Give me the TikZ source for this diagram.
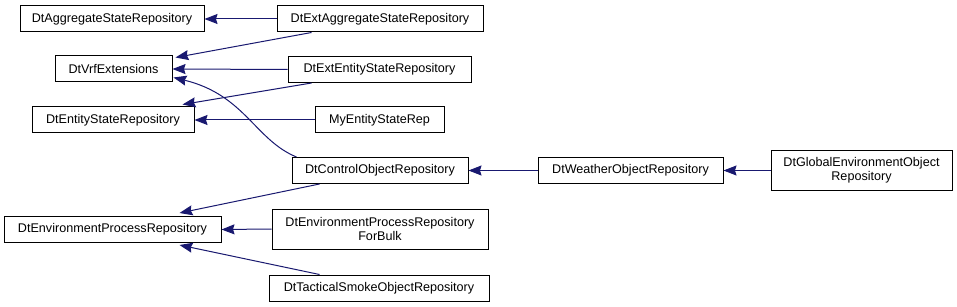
\documentclass[tikz,border=0pt]{standalone}
\usepackage{fontspec}
\setmainfont{Liberation Sans}
\usetikzlibrary{arrows.meta,calc}
\definecolor{edgec}{HTML}{191970}
\tikzset{
  cls/.style={draw=black, line width=1pt, fill=white, inner sep=0pt, align=center,
    font=\fontsize{12.6}{14}\selectfont, minimum height=26pt},
  inh/.style={draw=edgec, line width=1pt, arrows={Stealth[length=13pt,width=10pt,inset=1.5pt,fill=edgec]-}},
}
\begin{document}
\begin{tikzpicture}[x=1pt,y=-1pt]
\useasboundingbox[fill=white] (0,0) rectangle (957,307);
\node[cls, minimum width=184pt] (agg) at (112,19) {DtAggregateStateRepository};
\node[cls, minimum width=206pt] (extagg) at (380,19) {DtExtAggregateStateRepository};
\node[cls, minimum width=117pt] (vrf) at (113.5,69) {DtVrfExtensions};
\node[cls, minimum width=183pt] (extent) at (379.5,69.5) {DtExtEntityStateRepository};
\node[cls, minimum width=162pt] (ent) at (113,120) {DtEntityStateRepository};
\node[cls, minimum width=129pt] (my) at (379.5,120) {MyEntityStateRep};
\node[cls, minimum width=176pt] (ctrl) at (380,170.5) {DtControlObjectRepository};
\node[cls, minimum width=185pt] (weather) at (630.5,170.5) {DtWeatherObjectRepository};
\node[cls, minimum width=181pt, minimum height=39pt] (global) at (861.5,170.5) {DtGlobalEnvironmentObject\\Repository};
\node[cls, minimum width=217pt] (env) at (112.5,229.5) {DtEnvironmentProcessRepository};
\node[cls, minimum width=216pt, minimum height=40pt] (bulk) at (380,229) {DtEnvironmentProcessRepository\\ForBulk};
\node[cls, minimum width=220pt] (smoke) at (379,288) {DtTacticalSmokeObjectRepository};

\draw[inh] (agg.east) -- (extagg.west);
\draw[inh] ($(vrf.north east)+(3,2)$) -- ($(extagg.south west)+(35,0)$);
\draw[inh] (vrf.east) -- (extent.west);
\draw[inh] ($(vrf.south east)+(1,-5)$) .. controls (245,95) and (255,140) .. ($(ctrl.north west)+(5,0)$);
\draw[inh] ($(ent.north east)+(-12,-2)$) -- ($(extent.south west)+(24,0)$);
\draw[inh] (ent.east) -- (my.west);
\draw[inh] (ctrl.east) -- (weather.west);
\draw[inh] (weather.east) -- (global.west);
\draw[inh] ($(env.north)+(67,-3)$) -- ($(ctrl.south west)+(28,0)$);
\draw[inh] (env.east) -- (bulk.west);
\draw[inh] ($(env.south)+(67,2)$) -- ($(smoke.north west)+(51,0)$);
\end{tikzpicture}
\end{document}
